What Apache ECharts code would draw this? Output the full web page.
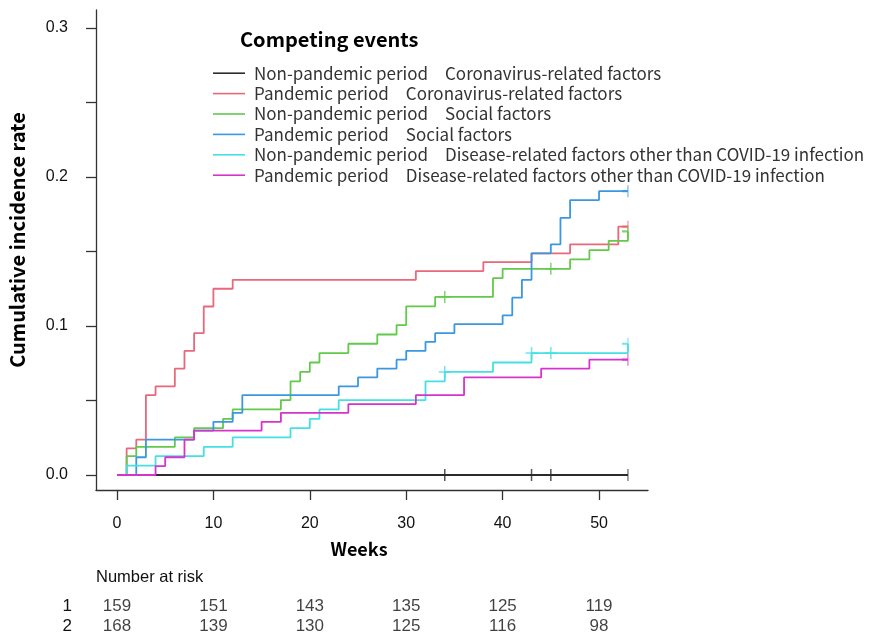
<!DOCTYPE html>
<html>
<head>
<meta charset="utf-8">
<script src="https://cdn.jsdelivr.net/npm/echarts@6/dist/echarts.min.js"></script>
<style>
html,body{margin:0;padding:0;background:#fff;}
#chart{width:876px;height:637px;}
</style>
</head>
<body>
<div id="chart"></div>
<script>
// ---- Data ----
const weekTicks = [0, 10, 20, 30, 40, 50];
const yTickVals = [0, 0.05, 0.1, 0.15, 0.2, 0.25, 0.3];
const yLabelVals = [0, 0.1, 0.2, 0.3];

const seriesNames = [
  'Non-pandemic period\u3000Coronavirus-related factors',
  'Pandemic period\u3000Coronavirus-related factors',
  'Non-pandemic period\u3000Social factors',
  'Pandemic period\u3000Social factors',
  'Non-pandemic period\u3000Disease-related factors other than COVID-19 infection',
  'Pandemic period\u3000Disease-related factors other than COVID-19 infection'
];

// Non-pandemic, coronavirus-related
const npCoronaWeeks = [0, 53];
const npCoronaRate  = [0, 0];
const npCoronaCensor = [34, 43, 45, 53];

// Pandemic, coronavirus-related
const pCoronaWeeks = [0, 1, 2, 3, 4, 6, 7, 8, 9, 10, 12, 31, 38, 43, 47, 52, 53];
const pCoronaRate  = [0, 0.0179, 0.0238, 0.0536, 0.0595, 0.0714, 0.0833, 0.0952, 0.1131, 0.125, 0.131, 0.1369, 0.1429, 0.1488, 0.1548, 0.1667, 0.1667];
const pCoronaCensor = [53];

// Non-pandemic, social
const npSocialWeeks = [0, 1, 2, 6, 8, 11, 12, 17, 18, 19, 20, 21, 24, 27, 29, 30, 33, 39, 40, 47, 49, 51, 53];
const npSocialRate  = [0, 0.0126, 0.0189, 0.0252, 0.0314, 0.0377, 0.044, 0.0503, 0.0629, 0.0692, 0.0755, 0.0818, 0.0881, 0.0943, 0.1006, 0.1132, 0.1195, 0.1321, 0.1384, 0.1447, 0.1509, 0.1572, 0.1635];
const npSocialCensor = [34, 45, 53];

// Pandemic, social
const pSocialWeeks = [0, 2, 3, 8, 10, 12, 13, 23, 25, 27, 29, 30, 32, 33, 35, 40, 41, 42, 43, 45, 46, 47, 50, 53];
const pSocialRate  = [0, 0.0119, 0.0238, 0.0298, 0.0357, 0.0417, 0.0536, 0.0595, 0.0655, 0.0714, 0.0774, 0.0833, 0.0893, 0.0952, 0.1012, 0.1071, 0.119, 0.131, 0.1488, 0.1548, 0.1726, 0.1845, 0.1905, 0.1905];
const pSocialCensor = [53];

// Non-pandemic, disease-related
const npDiseaseWeeks = [0, 1, 4, 9, 12, 18, 20, 21, 23, 32, 34, 39, 43, 53];
const npDiseaseRate  = [0, 0.0063, 0.0126, 0.0189, 0.0252, 0.0314, 0.0377, 0.044, 0.0503, 0.0629, 0.0692, 0.0755, 0.0818, 0.0881];
const npDiseaseCensor = [34, 43, 45, 53];

// Pandemic, disease-related
const pDiseaseWeeks = [0, 4, 5, 7, 8, 15, 17, 24, 31, 36, 44, 49, 53];
const pDiseaseRate  = [0, 0.006, 0.0119, 0.0238, 0.0298, 0.0357, 0.0417, 0.0476, 0.0536, 0.0655, 0.0714, 0.0774, 0.0774];
const pDiseaseCensor = [53];

// Number at risk
const riskRows = ['1', '2'];
const riskRow1 = [159, 151, 143, 135, 125, 119];
const riskRow2 = [168, 139, 130, 125, 116, 98];

// ---- Styling ----
const colors = ['#2b2b2b', '#e8687c', '#62c94b', '#3b98e0', '#46e0e4', '#d434cc'];
const curves = [
  [npCoronaWeeks, npCoronaRate, npCoronaCensor],
  [pCoronaWeeks, pCoronaRate, pCoronaCensor],
  [npSocialWeeks, npSocialRate, npSocialCensor],
  [pSocialWeeks, pSocialRate, pSocialCensor],
  [npDiseaseWeeks, npDiseaseRate, npDiseaseCensor],
  [pDiseaseWeeks, pDiseaseRate, pDiseaseCensor]
];

const X_MIN = -2.178, X_MAX = 55.08;
const Y_MIN = -0.01007, Y_MAX = 0.3121;
const END_WEEK = 53;

function stepValue(ws, vs, t) {
  let v = 0;
  for (let i = 0; i < ws.length; i++) { if (ws[i] <= t) v = vs[i]; }
  return v;
}

const PLUS = 'path://M5,0L5,10M0,5L10,5';
const HALF_PLUS = 'path://M5,0L5,10M0,5L5,5';

const series = [];
curves.forEach((c, i) => {
  series.push({
    name: seriesNames[i],
    type: 'line',
    step: 'end',
    symbol: 'none',
    color: colors[i],
    lineStyle: { color: colors[i], width: 1.8 },
    data: c[0].map((w, k) => [w, c[1][k]]),
    z: 2 + i,
    silent: true
  });
});
curves.forEach((c, i) => {
  series.push({
    name: 'censor' + i,
    type: 'scatter',
    z: 10 + i,
    silent: true,
    data: c[2].map(w => {
      const pt = { value: [w, stepValue(c[0], c[1], w)] };
      if (w >= END_WEEK) {
        pt.symbol = HALF_PLUS;
        pt.symbolSize = [6, 12];
        pt.symbolOffset = [-3, 0];
      }
      return pt;
    }),
    symbol: PLUS,
    symbolSize: 12,
    itemStyle: { color: 'transparent', borderColor: colors[i], borderWidth: 1.5 }
  });
});
// Number-at-risk table
[riskRow1, riskRow2].forEach((row, r) => {
  series.push({
    name: 'risk' + r,
    type: 'scatter',
    xAxisIndex: 1,
    yAxisIndex: 1,
    symbolSize: 1,
    silent: true,
    itemStyle: { color: 'transparent' },
    label: {
      show: true, position: 'inside',
      formatter: p => String(p.value[2]),
      fontFamily: 'Liberation Sans', fontSize: 17, color: '#111'
    },
    data: row.map((n, k) => [weekTicks[k], riskRows[r], n])
  });
});

const axisColor = '#333';
const tickFont = { fontFamily: 'Liberation Sans', fontSize: 16, color: '#111' };

const option = {
  animation: false,
  backgroundColor: '#fff',
  title: {
    text: 'Competing events',
    left: 240, top: 29, padding: 0,
    textStyle: { fontFamily: 'Noto Sans CJK JP', fontSize: 20, fontWeight: 'bold', color: '#000' }
  },
  legend: {
    data: seriesNames,
    orient: 'vertical',
    left: 213, top: 63,
    icon: 'rect',
    itemWidth: 32, itemHeight: 1.6, itemGap: 0,
    padding: 0,
    selectedMode: false,
    textStyle: { fontFamily: 'Noto Sans CJK JP', fontSize: 17, color: '#333', lineHeight: 20.4, padding: [0, 0, 0, 4] }
  },
  grid: [
    { left: 96, top: 10, width: 552, height: 480 },
    { left: 96, top: 596, width: 552, height: 44 }
  ],
  xAxis: [
    {
      type: 'value', min: X_MIN, max: X_MAX,
      axisLine: { show: true, onZero: false, lineStyle: { color: axisColor, width: 1.3 } },
      axisTick: { show: true, length: 10, customValues: weekTicks, lineStyle: { color: axisColor, width: 1.3 } },
      axisLabel: Object.assign({ customValues: weekTicks, margin: 26 }, tickFont),
      splitLine: { show: false }
    },
    { type: 'value', gridIndex: 1, min: X_MIN, max: X_MAX, show: false }
  ],
  yAxis: [
    {
      type: 'value', min: Y_MIN, max: Y_MAX,
      axisLine: { show: true, onZero: false, lineStyle: { color: axisColor, width: 1.3 } },
      axisTick: { show: true, length: 10, customValues: yTickVals, lineStyle: { color: axisColor, width: 1.3 } },
      axisLabel: Object.assign({ customValues: yLabelVals, margin: 28, formatter: v => v.toFixed(1) }, tickFont),
      splitLine: { show: false }
    },
    {
      type: 'category', gridIndex: 1, data: riskRows, inverse: true,
      axisLine: { show: false }, axisTick: { show: false },
      axisLabel: Object.assign({ margin: 24, interval: 0 }, tickFont, { fontSize: 17 }),
      splitLine: { show: false }
    }
  ],
  graphic: [
    {
      type: 'text', x: 17, y: 240, rotation: Math.PI / 2,
      style: { text: 'Cumulative incidence rate', font: 'bold 20px "Noto Sans CJK JP"', textAlign: 'center', textVerticalAlign: 'middle', fill: '#000' }
    },
    {
      type: 'text', x: 359, y: 549,
      style: { text: 'Weeks', font: 'bold 18px "Noto Sans CJK JP"', textAlign: 'center', textVerticalAlign: 'middle', fill: '#000' }
    },
    {
      type: 'text', x: 96, y: 577,
      style: { text: 'Number at risk', font: '16.5px "Liberation Sans"', textAlign: 'left', textVerticalAlign: 'middle', fill: '#111' }
    }
  ],
  series: series
};

const chart = echarts.init(document.getElementById('chart'), null, { renderer: 'canvas' });
chart.setOption(option);
</script>
</body>
</html>
